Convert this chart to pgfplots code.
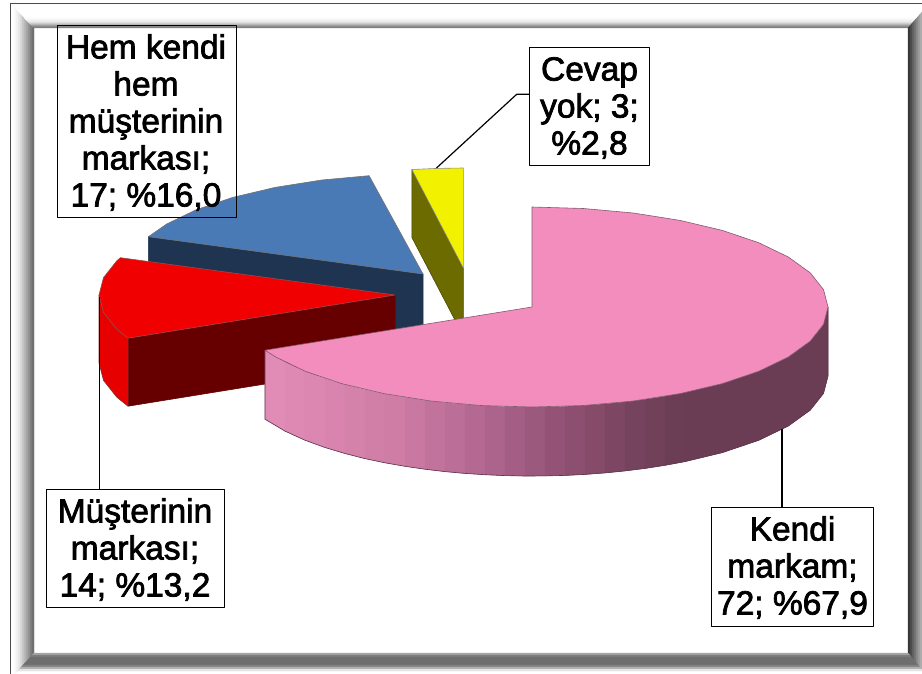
\documentclass[border=0pt]{standalone}
\usepackage{fontspec}
\setmainfont{Liberation Sans}
\newfontface\lab[FakeBold=2.2]{Liberation Sans}
\usepackage{pgfplots}
\pgfplotsset{compat=1.18}
\definecolor{pinktop}{HTML}{F38DBE}
\definecolor{pinkedge}{HTML}{6B3D55}
\definecolor{bluetop}{HTML}{4A7AB5}
\definecolor{blueside}{HTML}{1F3450}
\definecolor{redtop}{HTML}{F00000}
\definecolor{redrim}{HTML}{E60000}
\definecolor{redside}{HTML}{660000}
\definecolor{yel}{HTML}{F2F200}
\definecolor{olive}{HTML}{6B6B00}
\tikzset{
  s/.style n args={3}{fill={rgb,255:red,#1;green,#2;blue,#3},draw={rgb,255:red,#1;green,#2;blue,#3},line width=0.3pt},
  v/.style={s={#1}{#1}{#1}},
}
\begin{document}
\begin{tikzpicture}
\begin{axis}[
  hide axis, scale only axis, width=922pt, height=674pt,
  xmin=0, xmax=922, ymin=0, ymax=674, y dir=reverse,
  every axis plot/.append style={mark=none, line join=round},
]
% page background
\addplot[fill=white, draw=none] coordinates {(0,0)(922,0)(922,674)(0,674)} -- cycle;
% left bevel
\addplot[v=250] coordinates {(14,8)(16,10)(16,672.8)(14,675)} -- cycle;
\addplot[v=242] coordinates {(16,10)(18,12)(18,670.6)(16,672.8)} -- cycle;
\addplot[v=232] coordinates {(18,12)(20,14)(20,668.4)(18,670.6)} -- cycle;
\addplot[v=218] coordinates {(20,14)(22,16)(22,666.2)(20,668.4)} -- cycle;
\addplot[v=200] coordinates {(22,16)(24,18)(24,664)(22,666.2)} -- cycle;
\addplot[v=184] coordinates {(24,18)(26,20)(26,661.8)(24,664)} -- cycle;
\addplot[v=166] coordinates {(26,20)(28,22)(28,659.6)(26,661.8)} -- cycle;
\addplot[v=148] coordinates {(28,22)(30,24)(30,657.4)(28,659.6)} -- cycle;
\addplot[v=128] coordinates {(30,24)(32,26)(32,655.2)(30,657.4)} -- cycle;
\addplot[v=112] coordinates {(32,26)(34,28)(34,653)(32,655.2)} -- cycle;
% top bevel
\addplot[v=250] coordinates {(24,18)(916.75,18)(915,20)(26,20)} -- cycle;
\addplot[v=240] coordinates {(26,20)(915,20)(913.25,22)(28,22)} -- cycle;
\addplot[v=225] coordinates {(28,22)(913.25,22)(912.4,23)(29,23)} -- cycle;
\addplot[v=210] coordinates {(29,23)(912.4,23)(911.5,24)(30,24)} -- cycle;
\addplot[v=190] coordinates {(30,24)(911.5,24)(910.6,25)(31,25)} -- cycle;
\addplot[v=165] coordinates {(31,25)(910.6,25)(909.75,26)(32,26)} -- cycle;
\addplot[v=145] coordinates {(32,26)(909.75,26)(908.9,27)(33,27)} -- cycle;
\addplot[v=128] coordinates {(33,27)(908.9,27)(908,28)(34,28)} -- cycle;
% right bevel
\addplot[v=55] coordinates {(908,28)(910,25.7)(910,655.4)(908,653)} -- cycle;
\addplot[v=75] coordinates {(910,25.7)(912,23.4)(912,657.8)(910,655.4)} -- cycle;
\addplot[v=95] coordinates {(912,23.4)(914,21.2)(914,660.2)(912,657.8)} -- cycle;
\addplot[v=115] coordinates {(914,21.2)(916,18.9)(916,662.6)(914,660.2)} -- cycle;
\addplot[v=135] coordinates {(916,18.9)(918,16.6)(918,665)(916,662.6)} -- cycle;
\addplot[v=155] coordinates {(918,16.6)(920,14.3)(920,667.4)(918,665)} -- cycle;
\addplot[v=172] coordinates {(920,14.3)(922,12)(922,669.8)(920,667.4)} -- cycle;
% bottom bevel
\addplot[v=165] coordinates {(34,653)(908,653)(909.7,655)(32.2,655)} -- cycle;
\addplot[v=125] coordinates {(32.2,655)(909.7,655)(911.3,657)(30.4,657)} -- cycle;
\addplot[v=110] coordinates {(30.4,657)(911.3,657)(918,665)(23.1,665)} -- cycle;
\addplot[v=130] coordinates {(23.1,665)(918,665)(919.7,667)(21.3,667)} -- cycle;
\addplot[v=175] coordinates {(21.3,667)(919.7,667)(921.3,669)(19.5,669)} -- cycle;
\addplot[v=228] coordinates {(19.5,669)(921.3,669)(922,671)(17.6,671)} -- cycle;
% outer border
\addplot[draw=black!70, line width=1pt] coordinates {(10,674)(10,4)(922,4)};
% yellow slice
\addplot[fill=olive, draw=olive!70!black, line width=0.6pt] coordinates {(411.9,169.5)(463.3,268)(463.3,336)(411.9,237.5)} -- cycle;
\addplot[fill=yel, draw=black!45, line width=0.6pt] coordinates {(411.9,169.5)(437.5,168.4)(463.3,168)(463.3,268)} -- cycle;
% blue slice
\addplot[fill=blueside, draw=blueside, line width=0.6pt] coordinates {(148.4,236.7)(423,274)(423,342)(148.4,304.7)} -- cycle;
\addplot[fill=bluetop, draw=black!55, line width=0.6pt] coordinates {(148.4,236.7)(166.7,224)(196.3,209.7)(232.7,197.4)(275,187.4)(321.8,180)(369.1,175.7)(423,274)} -- cycle;
% red slice
\addplot[fill=redside, draw=redside, line width=0.6pt] coordinates {(128,338.2)(395,295)(395,363)(128,406.2)} -- cycle;
\addplot[fill=redrim, draw=redside!80, line width=0.6pt] coordinates {(128,338.2)(116.8,329.2)(103.5,312.4)(99,295)(99,363)(103.5,380.4)(116.8,397.2)(128,406.2)} -- cycle;
\addplot[fill=redtop, draw=redside!70, line width=0.6pt] coordinates {(128,338.2)(116.8,329.2)(103.5,312.4)(99,295)(103.5,277.6)(116.8,260.8)(120.4,257.7)(395,295)} -- cycle;
% pink rim, in strips from light to dark
\addplot[s={225}{140}{183}] coordinates {(265,350.2)(285,362.1)(285,431.1)(265,419.2)} -- cycle;
\addplot[s={222}{137}{180}] coordinates {(285,362.1)(305,371.2)(305,440.2)(285,431.1)} -- cycle;
\addplot[s={219}{135}{177}] coordinates {(305,371.2)(325,378.5)(325,447.5)(305,440.2)} -- cycle;
\addplot[s={216}{132}{174}] coordinates {(325,378.5)(345,384.5)(345,453.5)(325,447.5)} -- cycle;
\addplot[s={213}{130}{171}] coordinates {(345,384.5)(365,389.6)(365,458.6)(345,453.5)} -- cycle;
\addplot[s={210}{127}{168}] coordinates {(365,389.6)(385,393.8)(385,462.8)(365,458.6)} -- cycle;
\addplot[s={207}{125}{165}] coordinates {(385,393.8)(405,397.3)(405,466.3)(385,462.8)} -- cycle;
\addplot[s={201}{120}{161}] coordinates {(405,397.3)(425,400.2)(425,469.2)(405,466.3)} -- cycle;
\addplot[s={194}{115}{155}] coordinates {(425,400.2)(445,402.6)(445,471.6)(425,469.2)} -- cycle;
\addplot[s={187}{110}{151}] coordinates {(445,402.6)(465,404.4)(465,473.4)(445,471.6)} -- cycle;
\addplot[s={180}{105}{146}] coordinates {(465,404.4)(485,405.7)(485,474.7)(465,473.4)} -- cycle;
\addplot[s={172}{100}{140}] coordinates {(485,405.7)(505,406.6)(505,475.6)(485,474.7)} -- cycle;
\addplot[s={164}{94}{133}] coordinates {(505,406.6)(525,407)(525,476)(505,475.6)} -- cycle;
\addplot[s={156}{89}{126}] coordinates {(525,407)(545,406.9)(545,475.9)(525,476)} -- cycle;
\addplot[s={148}{83}{118}] coordinates {(545,406.9)(565,406.4)(565,475.4)(545,475.9)} -- cycle;
\addplot[s={140}{79}{111}] coordinates {(565,406.4)(585,405.4)(585,474.4)(565,475.4)} -- cycle;
\addplot[s={133}{75}{105}] coordinates {(585,405.4)(605,403.9)(605,472.9)(585,474.4)} -- cycle;
\addplot[s={125}{71}{99}] coordinates {(605,403.9)(625,401.9)(625,470.9)(605,472.9)} -- cycle;
\addplot[s={118}{67}{94}] coordinates {(625,401.9)(645,399.4)(645,468.4)(625,470.9)} -- cycle;
\addplot[s={113}{64}{89}] coordinates {(645,399.4)(665,396.3)(665,465.3)(645,468.4)} -- cycle;
\addplot[s={108}{62}{86}] coordinates {(665,396.3)(685,392.6)(685,461.6)(665,465.3)} -- cycle;
\addplot[s={107}{61}{85}] coordinates {(685,392.6)(722.3,383.6)(758.7,371.3)(788.3,357)(810.2,341.2)(823.5,324.4)(828,307)(828,376)(823.5,393.4)(810.2,410.2)(788.3,426)(758.7,440.3)(722.3,452.6)(685,461.6)} -- cycle;
% pink rim outline
\addplot[draw=pinkedge!85!black, line width=0.6pt] coordinates {(265,350.2)(265,419.2)(285,431.1)(305,440.2)(325,447.5)(345,453.5)(365,458.6)(385,462.8)(405,466.3)(425,469.2)(445,471.6)(465,473.4)(485,474.7)(505,475.6)(525,476)(545,475.9)(565,475.4)(585,474.4)(605,472.9)(625,470.9)(645,468.4)(665,465.3)(685,461.6)(722.3,452.6)(758.7,440.3)(788.3,426)(810.2,410.2)(823.5,393.4)(828,376)(828,307)};
% pink top
\addplot[fill=pinktop, draw=pinkedge!85, line width=0.6pt] coordinates {(532,307)(532,207)(583.4,208.5)(633.2,213)(680,220.4)(722.3,230.4)(758.7,242.7)(788.3,257)(810.2,272.8)(823.5,289.6)(828,307)(823.5,324.4)(810.2,341.2)(788.3,357)(758.7,371.3)(722.3,383.6)(680,393.6)(633.2,401)(583.4,405.5)(532,407)(480.6,405.5)(430.8,401)(384,393.6)(341.7,383.6)(305.3,371.3)(275.7,357)(265,350.2)} -- cycle;
% leader lines
\addplot[draw=black, line width=1.2pt] coordinates {(436.5,168)(516.7,94.3)(529.5,94.3)};
\addplot[draw=black, line width=1.2pt] coordinates {(782,429)(782,507.7)};
\addplot[draw=black, line width=1.2pt] coordinates {(99.5,297)(99.5,489)};
% label boxes
\addplot[draw=black, line width=0.9pt] coordinates {(57,25.5)(236.5,25.5)(236.5,217)(57,217)} -- cycle;
\addplot[draw=black, line width=0.9pt] coordinates {(529.5,47)(649,47)(649,165.7)(529.5,165.7)} -- cycle;
\addplot[draw=black, line width=0.9pt] coordinates {(46,489)(224.5,489)(224.5,607.3)(46,607.3)} -- cycle;
\addplot[draw=black, line width=0.9pt] coordinates {(711.3,507.7)(873.7,507.7)(873.7,626.3)(711.3,626.3)} -- cycle;
% label texts
\tikzset{lbl/.style={align=center, inner sep=0pt, font=\lab\fontsize{33.5}{37}\selectfont}}
\node[lbl] at (axis cs:146,122.5) {Hem kendi\\hem\\müşterinin\\markası;\\17; \%16,0};
\node[lbl] at (axis cs:589.5,108) {Cevap\\yok; 3;\\\%2,8};
\node[lbl] at (axis cs:135,549.5) {Müşterinin\\markası;\\14; \%13,2};
\node[lbl] at (axis cs:792.5,567.5) {Kendi\\markam;\\72; \%67,9};
\end{axis}
\end{tikzpicture}
\end{document}
